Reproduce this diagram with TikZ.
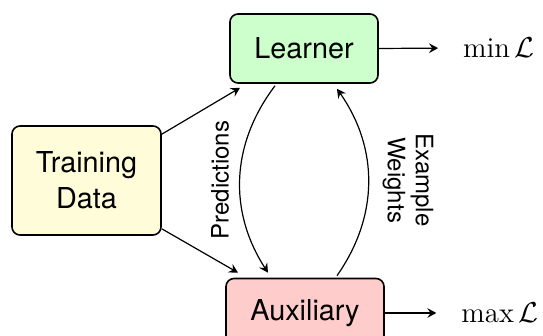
\documentclass[tikz,border=0pt]{standalone}
\usepackage{fontspec}
\setsansfont{TeX Gyre Heros}
\usepackage{tikz}
\usetikzlibrary{calc,arrows.meta}

\tikzset{
	block/.style={draw, thick, rounded corners=4pt, font=\sffamily\Large, align=center, minimum height=34.5pt},
	flow/.style={-{Stealth[length=4.5pt, width=4.8pt, inset=1.6pt]}, semithick},
	tag/.style={font=\sffamily\large, align=center}
}

\begin{document}
\begin{tikzpicture}[x=0.5pt, y=-0.5pt]
		%%%%% BOXES %%%%%
		\useasboundingbox (0, 0) rectangle (543, 336);
		
		\node[block, fill=green!20, minimum width=74pt] (learner) at (304, 48.5) {Learner};
		\node[block, fill=yellow!15, minimum width=74.5pt, minimum height=54.5pt] (data) at (86.5, 180.5) {Training\\Data};
		\node[block, fill=red!20, minimum width=79pt] (aux) at (305, 313) {Auxiliary};
		
		\node[font=\Large] (minL) at (499, 48) {$\min\mathcal{L}$};
		\node[font=\Large] (maxL) at (500, 313) {$\max\mathcal{L}$};
		
		%%%%% ARROWS %%%%%
		\draw[flow] ($(data.north east)+(0, 9)$) -- ($(learner.south)+(-64, 4)$);
		\draw[flow] ($(data.south east)+(0, -7)$) -- ($(aux.north)+(-67, -5)$);
		
		\draw[flow, shorten >=9pt] (learner.east) -- (minL.west);
		\draw[flow, shorten >=9pt] (aux.east) -- (maxL.west);
		
		\draw[flow] ($(learner.south)+(-29, 2)$) to[bend right=35] ($(aux.north)+(-37, -5)$);
		\draw[flow] ($(aux.north)+(32, -2)$) to[bend right=35] ($(learner.south)+(33, 5)$);
		
		%%%%% LABELS %%%%%
		\node[tag, rotate=90] (pred) at (220, 180) {Predictions};
		\node[tag, rotate=-90] (weights) at (408, 180) {Example\\Weights};
		
	\end{tikzpicture}
\end{document}
